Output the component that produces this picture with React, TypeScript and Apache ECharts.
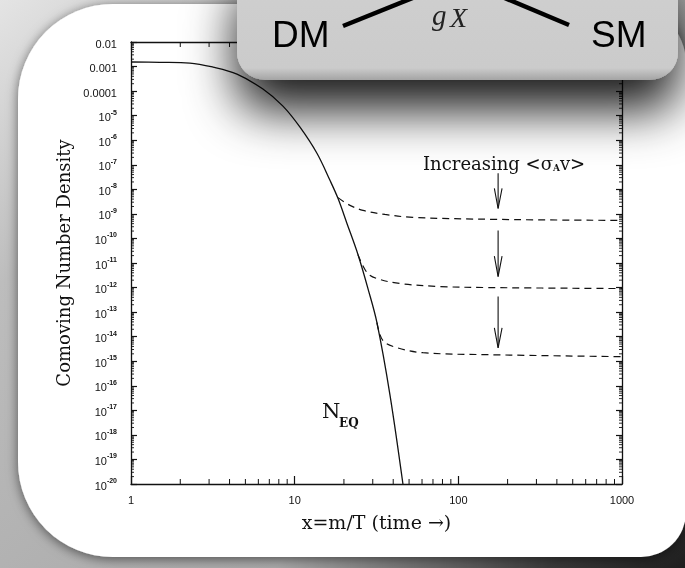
import React, { useEffect, useRef } from 'react';
import * as echarts from 'echarts';

// ---- axis ranges & tick labels ----
const X_MIN = 1;
const X_MAX = 1000;
const Y_MIN = 1e-20;
const Y_MAX = 1e-2;
const X_TICK_LABELS = ['1', '10', '100', '1000'];
const Y_PLAIN_LABELS = ['0.01', '0.001', '0.0001']; // exponents -2, -3, -4
const MINOR_MULT = [2, 3, 4, 5, 6, 7, 8, 9];
const X_DECADES = [1, 10, 100];
const Y_DECADE_EXP = [-20, -19, -18, -17, -16, -15, -14, -13, -12, -11, -10, -9, -8, -7, -6, -5, -4, -3];

// ---- equilibrium curve (solid) ----
const NEQ_X = [1, 1.5, 2.29, 3.17, 4.44, 6.4, 8.48, 10.78, 13.68, 16.43, 18.39, 20.87, 24.36, 28.04, 31.82, 38.21, 45.87];
const NEQ_Y = [1.53e-3, 1.48e-3, 1.39e-3, 9.5e-4, 4.94e-4, 1.21e-4, 2.44e-5, 3.39e-6, 2.94e-7, 2.33e-8, 4.29e-9, 4.09e-10, 2.22e-11, 9.1e-13, 3.72e-14, 4.3e-17, 1e-20];

// ---- freeze-out curves (dashed) ----
const FO1_X = [18.4, 21.77, 26.14, 35.61, 52.8, 172, 1000];
const FO1_Y = [4.6e-9, 2.22e-9, 1.39e-9, 9.5e-10, 7.2e-10, 5.97e-10, 5.43e-10];
const FO2_X = [24.36, 27.65, 31.82, 44.0, 77.2, 156, 1000];
const FO2_Y = [2.2e-11, 4.09e-12, 2.33e-12, 1.46e-12, 1.1e-12, 1.0e-12, 9.1e-13];
const FO3_X = [31.82, 34.63, 42.2, 60.8, 156, 1000];
const FO3_Y = [3.7e-14, 6.9e-15, 3.56e-15, 2.22e-15, 1.84e-15, 1.53e-15];

// ---- arrows ("Increasing <σA v>") ----
const ARROW_X = 175;
const ARROW_HEAD_X = [166, 185];
const ARROW_TOP = [4.5e-8, 2.1e-10, 4.3e-13];
const ARROW_TIP = [1.66e-9, 2.8e-12, 3.5e-15];
const ARROW_HEAD_Y = [1.1e-8, 1.9e-11, 2.3e-14];

const INK = '#111111';
const SERIF = '"DejaVu Serif", serif';
const SANS = '"Liberation Sans", Arial, sans-serif';
const MATH = '"Liberation Serif", serif';

const X_MINOR = X_DECADES.flatMap((d) => MINOR_MULT.map((m) => m * d));
const Y_MINOR = Y_DECADE_EXP.flatMap((e) => MINOR_MULT.map((m) => m * Math.pow(10, e)));

const pairs = (xs: number[], ys: number[]) => xs.map((x, i) => [x, ys[i]]);

function yLabel(v: number) {
  const e = Math.round(Math.log10(v));
  if (e >= -4) return `{n|${Y_PLAIN_LABELS[-2 - e]}}`;
  return `{b|10}{s|-${-e}}`;
}
function xLabel(v: number) {
  const e = Math.round(Math.log10(v));
  return X_TICK_LABELS[e] ?? '';
}

function buildOption(): any {
  const labelRich = {
    n: { fontFamily: SANS, fontSize: 11, color: INK, lineHeight: 14, verticalAlign: 'bottom' },
    b: { fontFamily: SANS, fontSize: 11, color: INK, lineHeight: 14, verticalAlign: 'bottom' },
    s: { fontFamily: SANS, fontSize: 7, color: INK, lineHeight: 8, verticalAlign: 'top', fontWeight: 'bold' },
  };
  const axisLine = { show: true, lineStyle: { color: INK, width: 1.3 } };
  const tickStyle = { color: INK, width: 1.2 };

  const series: any[] = [
    {
      type: 'line', name: 'N_EQ', data: pairs(NEQ_X, NEQ_Y), smooth: 0.35,
      symbol: 'none', showSymbol: false, lineStyle: { color: INK, width: 1.3 }, z: 5,
    },
  ];
  [[FO1_X, FO1_Y], [FO2_X, FO2_Y], [FO3_X, FO3_Y]].forEach(([xs, ys], i) => {
    series.push({
      type: 'line', name: 'freeze-out ' + (i + 1), data: pairs(xs, ys), smooth: 0.35,
      symbol: 'none', showSymbol: false, lineStyle: { color: INK, width: 1.2, type: [7, 5] }, z: 4,
    });
  });
  ARROW_TOP.forEach((top, i) => {
    series.push({
      type: 'line', data: [[ARROW_X, top], [ARROW_X, ARROW_TIP[i]]], symbol: 'none',
      lineStyle: { color: INK, width: 1.1 }, z: 4, silent: true,
    });
    series.push({
      type: 'line', data: [[ARROW_HEAD_X[0], ARROW_HEAD_Y[i]], [ARROW_X, ARROW_TIP[i]], [ARROW_HEAD_X[1], ARROW_HEAD_Y[i]]],
      symbol: 'none', lineStyle: { color: INK, width: 1.1 }, z: 4, silent: true,
    });
  });
  // minor ticks on x (bottom + top)
  series.push({
    type: 'custom', silent: true, z: 3,
    data: X_MINOR.map((v) => [v, Y_MIN]),
    renderItem: (_p: any, api: any) => {
      const v = api.value(0);
      const b = api.coord([v, Y_MIN]);
      const t = api.coord([v, Y_MAX]);
      const st = { stroke: INK, lineWidth: 1 };
      return {
        type: 'group',
        children: [
          { type: 'line', shape: { x1: b[0], y1: b[1], x2: b[0], y2: b[1] - 5 }, style: st },
          { type: 'line', shape: { x1: t[0], y1: t[1], x2: t[0], y2: t[1] + 5 }, style: st },
        ],
      };
    },
  });
  // minor ticks on y (left + right)
  series.push({
    type: 'custom', silent: true, z: 3,
    data: Y_MINOR.map((v) => [X_MIN, v]),
    renderItem: (_p: any, api: any) => {
      const v = api.value(1);
      const l = api.coord([X_MIN, v]);
      const r = api.coord([X_MAX, v]);
      const st = { stroke: INK, lineWidth: 0.9 };
      return {
        type: 'group',
        children: [
          { type: 'line', shape: { x1: l[0], y1: l[1], x2: l[0] + 3, y2: l[1] }, style: st },
          { type: 'line', shape: { x1: r[0], y1: r[1], x2: r[0] - 3, y2: r[1] }, style: st },
        ],
      };
    },
  });

  const graphic: any[] = [
    {
      type: 'rect', z: -100, silent: true,
      shape: { x: 0, y: 0, width: 685, height: 568 },
      style: {
        fill: new echarts.graphic.LinearGradient(0, 0, 1, 1, [
          { offset: 0, color: '#e4e4e4' },
          { offset: 0.25, color: '#bdbdbd' },
          { offset: 0.7, color: '#a9a9a9' },
          { offset: 0.9, color: '#3a3a3a' },
          { offset: 1, color: '#1e1e1e' },
        ]),
      },
    },
    {
      type: 'rect', z: -90, silent: true,
      shape: { x: 18, y: 4, width: 668, height: 553, r: [95, 60, 45, 95] },
      style: { fill: '#ffffff', shadowBlur: 12, shadowColor: 'rgba(0,0,0,0.55)', shadowOffsetX: 0, shadowOffsetY: 2 },
    },
    {
      type: 'text', z: 10, silent: true, x: 423, y: 161,
      style: {
        text: '{t|Increasing <σ}{a|A}{t|v>}',
        verticalAlign: 'middle',
        rich: {
          t: { fontFamily: SERIF, fontSize: 18, fill: INK, color: INK, lineHeight: 22, verticalAlign: 'bottom' },
          a: { fontFamily: SERIF, fontSize: 9, fontWeight: 'bold', fill: INK, color: INK, lineHeight: 5, verticalAlign: 'bottom' },
        },
      },
    },
    {
      type: 'text', z: 10, silent: true, x: 322, y: 411,
      style: { text: 'N', fontFamily: SERIF, fontSize: 21, fill: INK, verticalAlign: 'middle' },
    },
    {
      type: 'text', z: 10, silent: true, x: 339, y: 423,
      style: { text: 'EQ', fontFamily: SERIF, fontSize: 12, fontWeight: 'bold', fill: INK, verticalAlign: 'middle' },
    },
    // top grey box (diagram)
    {
      type: 'rect', z: 100, silent: true,
      shape: { x: 237, y: -40, width: 441, height: 120, r: 28 },
      style: {
        fill: new echarts.graphic.LinearGradient(0, 0, 0, 1, [
          { offset: 0, color: '#d0d0d0' },
          { offset: 0.9, color: '#cbcbcb' },
          { offset: 1, color: '#a4a4a4' },
        ]),
        shadowBlur: 50, shadowOffsetY: 30, shadowColor: 'rgba(0,0,0,0.9)',
      },
    },
    {
      type: 'line', z: 101, silent: true,
      shape: { x1: 343, y1: 26, x2: 420, y2: -5 },
      style: { stroke: '#000', lineWidth: 4.5 },
    },
    {
      type: 'line', z: 101, silent: true,
      shape: { x1: 500, y1: -4, x2: 569, y2: 25 },
      style: { stroke: '#000', lineWidth: 4.5 },
    },
    {
      type: 'text', z: 101, silent: true, x: 272, y: 34,
      style: { text: 'DM', fontFamily: SANS, fontSize: 37, fill: '#000', verticalAlign: 'middle' },
    },
    {
      type: 'text', z: 101, silent: true, x: 591, y: 34,
      style: { text: 'SM', fontFamily: SANS, fontSize: 37, fill: '#000', verticalAlign: 'middle' },
    },
    {
      type: 'text', z: 101, silent: true, x: 432, y: 0,
      style: { text: 'g', fontFamily: MATH, fontStyle: 'italic', fontSize: 29, fill: '#222', verticalAlign: 'top' },
    },
    {
      type: 'text', z: 101, silent: true, x: 450, y: 3,
      style: { text: 'X', fontFamily: MATH, fontStyle: 'italic', fontSize: 28, fill: '#222', verticalAlign: 'top' },
    },
  ];

  return {
    animation: false,
    backgroundColor: 'transparent',
    grid: { left: 131, top: 42, width: 491, height: 442, containLabel: false },
    xAxis: [
      {
        type: 'log', logBase: 10, min: X_MIN, max: X_MAX, interval: 1, position: 'bottom',
        axisLine, splitLine: { show: false },
        axisTick: { show: true, inside: true, length: 8, lineStyle: tickStyle },
        axisLabel: { show: true, formatter: xLabel, fontFamily: SANS, fontSize: 11, color: INK, margin: 10, showMinLabel: true, showMaxLabel: true },
        name: 'x=m/T (time →)', nameLocation: 'middle', nameGap: 28,
        nameTextStyle: { fontFamily: SERIF, fontSize: 19, color: INK },
      },
      {
        type: 'log', logBase: 10, min: X_MIN, max: X_MAX, interval: 1, position: 'top',
        axisLine, splitLine: { show: false },
        axisTick: { show: true, inside: true, length: 8, lineStyle: tickStyle },
        axisLabel: { show: false },
      },
    ],
    yAxis: [
      {
        type: 'log', logBase: 10, min: Y_MIN, max: Y_MAX, interval: 1, position: 'left',
        axisLine, splitLine: { show: false },
        axisTick: { show: true, inside: true, length: 6, lineStyle: tickStyle },
        axisLabel: { show: true, formatter: yLabel, rich: labelRich, margin: 14, showMinLabel: true, showMaxLabel: true },
        name: 'Comoving Number Density', nameLocation: 'middle', nameGap: 31, nameRotate: 90,
        nameTextStyle: { fontFamily: SERIF, fontSize: 18, color: INK },
      },
      {
        type: 'log', logBase: 10, min: Y_MIN, max: Y_MAX, interval: 1, position: 'right',
        axisLine, splitLine: { show: false },
        axisTick: { show: true, inside: true, length: 6, lineStyle: tickStyle },
        axisLabel: { show: false },
      },
    ],
    series,
    graphic,
  };
}

export default function App() {
  const ref = useRef<HTMLDivElement>(null);
  useEffect(() => {
    if (!ref.current) return;
    const chart = echarts.init(ref.current, null, { renderer: 'svg' });
    chart.setOption(buildOption());
    return () => chart.dispose();
  }, []);
  return <div ref={ref} style={{ position: 'fixed', left: 0, top: 0, width: 685, height: 568 }} />;
}
